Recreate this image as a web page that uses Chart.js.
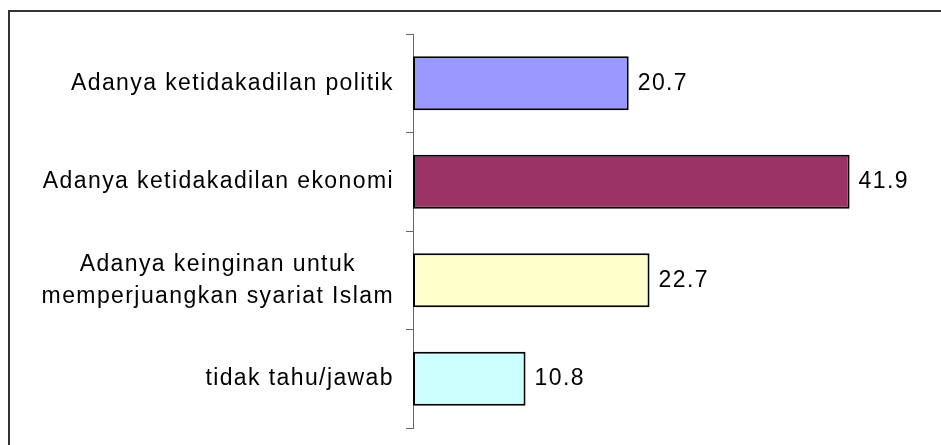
<!DOCTYPE html>
<html>
<head>
<meta charset="utf-8">
<script src="https://cdn.jsdelivr.net/npm/chart.js@4/dist/chart.umd.min.js"></script>
<style>
  html, body { margin: 0; padding: 0; background: #fff; }
  canvas { display: block; }
</style>
</head>
<body>
<canvas id="c" width="941" height="445"></canvas>
<script>
// Survey answers and their percentages
const categories = [
  'Adanya ketidakadilan politik',
  'Adanya ketidakadilan ekonomi',
  ['Adanya keinginan untuk', 'memperjuangkan syariat Islam'],
  'tidak tahu/jawab'
];
const values = [20.7, 41.9, 22.7, 10.8];
const barColors = ['#9999FF', '#993366', '#FFFFCC', '#CCFFFF'];

const TEXT_FONT = '23px "Liberation Sans", Arial, sans-serif';
const AXIS_LEFT = 413;

// Outer frame, category names and value labels
const decorations = {
  id: 'decorations',
  beforeDraw(chart) {
    const ctx = chart.ctx;
    ctx.save();
    ctx.strokeStyle = '#333333';
    ctx.lineWidth = 2;
    ctx.strokeRect(9, 11, 2000, 2000);
    ctx.restore();
  },
  afterDatasetsDraw(chart) {
    const ctx = chart.ctx;
    const yScale = chart.scales.y;
    const meta = chart.getDatasetMeta(0);
    ctx.save();
    ctx.font = TEXT_FONT;
    ctx.fillStyle = '#000000';
    ctx.letterSpacing = '1.4px';
    ctx.textBaseline = 'middle';

    // category names, right-aligned next to the axis
    const rightEdge = 394;
    const lineGap = 32;
    categories.forEach((label, i) => {
      const cy = yScale.getPixelForValue(i);
      const lines = Array.isArray(label) ? label : [label];
      const widths = lines.map(l => ctx.measureText(l).width);
      const blockW = Math.max(...widths);
      const centerX = rightEdge - blockW / 2;
      ctx.textAlign = 'center';
      lines.forEach((line, j) => {
        const y = cy + (j - (lines.length - 1) / 2) * lineGap;
        ctx.fillText(line, centerX, y);
      });
    });

    // values at the end of each bar
    ctx.textAlign = 'left';
    meta.data.forEach((bar, i) => {
      ctx.fillText(values[i].toFixed(1), bar.x + 9, bar.y);
    });
    ctx.restore();
  }
};

new Chart(document.getElementById('c'), {
  type: 'bar',
  data: {
    labels: categories,
    datasets: [{
      data: values,
      backgroundColor: barColors,
      borderColor: '#000000',
      borderWidth: 2,
      borderSkipped: false,
      barPercentage: 0.55,
      categoryPercentage: 1
    }]
  },
  options: {
    indexAxis: 'y',
    responsive: false,
    devicePixelRatio: 1,
    animation: false,
    layout: { padding: { top: 34, bottom: 17, left: 0, right: 7 } },
    plugins: {
      legend: { display: false },
      tooltip: { enabled: false }
    },
    scales: {
      x: {
        display: false,
        min: 0,
        max: 50
      },
      y: {
        ticks: { display: false },
        grid: {
          offset: true,
          drawOnChartArea: false,
          drawTicks: true,
          tickLength: 7,
          color: '#666666',
          lineWidth: 1
        },
        border: { display: true, color: '#666666', width: 1 },
        afterFit(scale) { scale.width = AXIS_LEFT; }
      }
    }
  },
  plugins: [decorations]
});
</script>
</body>
</html>
